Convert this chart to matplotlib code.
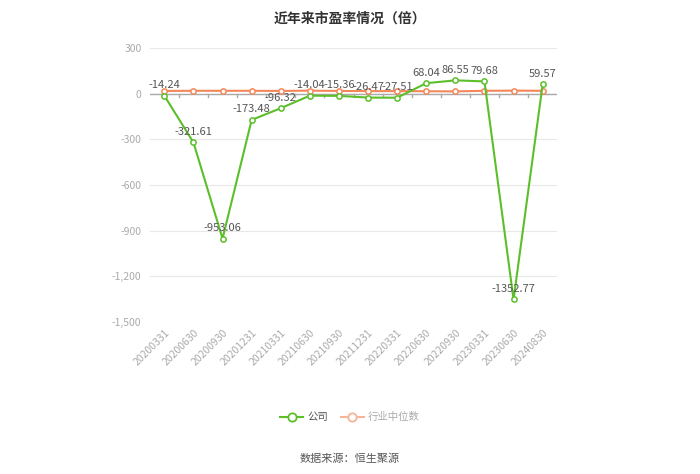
import matplotlib
matplotlib.use("Agg")
import matplotlib.pyplot as plt
from matplotlib.lines import Line2D

plt.rcParams['font.family'] = ['Noto Sans CJK SC', 'DejaVu Sans']

categories = ["20200331", "20200630", "20200930", "20201231", "20210331", "20210630",
              "20210930", "20211231", "20220331", "20220630", "20220930", "20230331",
              "20230630", "20240830"]
company = [-14.24, -321.61, -953.06, -173.48, -96.32, -14.04, -15.36, -26.47, -27.51,
           68.04, 86.55, 79.68, -1352.77, 59.57]
industry = [17, 18, 18, 18, 17, 19, 17, 16, 16, 15, 14, 18, 19, 18]
yticks = [300, 0, -300, -600, -900, -1200, -1500]

green = "#5cbf2a"
orange = "#f4875a"
grey = "#aaaaaa"

fig = plt.figure(figsize=(7, 4.74), dpi=100)
ax = fig.add_axes([0.214, 0.321, 0.582, 0.578])
x = list(range(len(categories)))

ax.plot(x, industry, color=orange, lw=1.5, marker='o', ms=3.8, mfc='white', mec=orange, mew=1.1, zorder=3)
ax.plot(x, company, color=green, lw=1.5, marker='o', ms=3.8, mfc='white', mec=green, mew=1.1, zorder=4)

for xi, v in zip(x, company):
    ax.annotate(f"{v:.2f}", (xi, v), xytext=(0, 4), textcoords='offset points',
                ha='center', va='bottom', fontsize=8, color='#555555', zorder=5)

ax.set_xlim(-0.5, len(categories) - 0.5)
ax.set_ylim(-1500, 300)
ax.set_yticks(yticks)
ax.set_yticklabels([f"{v:,}" for v in yticks], fontsize=7.5, color=grey)
ax.grid(axis='y', color='#e8e8e8', lw=0.8)
ax.set_axisbelow(True)
for s in ax.spines.values():
    s.set_visible(False)
ax.axhline(0, color='#aaaaaa', lw=1, zorder=2)
ax.tick_params(axis='y', length=0, pad=6)
ax.set_xticks(x)
ax.set_xticklabels(categories, rotation=45, ha='right', rotation_mode='anchor', fontsize=7.5, color=grey)
ax.tick_params(axis='x', length=0, pad=4)
for b in range(1, len(categories)):
    ax.plot([b - 0.5, b - 0.5], [0, -25], color='#aaaaaa', lw=1, zorder=2)

fig.text(0.5, 0.975, "近年来市盈率情况（倍）", ha='center', va='top', fontsize=10, fontweight='bold', color='#333333')

handles = [Line2D([0], [0], color=green, lw=1.5, marker='o', ms=6, mfc='white', mec=green, mew=1.3),
           Line2D([0], [0], color="#f7b597", lw=1.5, marker='o', ms=6, mfc='white', mec="#f7b597", mew=1.3)]
leg = fig.legend(handles, ["公司", "行业中位数"], loc='center', bbox_to_anchor=(0.5, 0.12), ncol=2,
                 frameon=False, fontsize=7.5, handlelength=2.2, columnspacing=1.2, handletextpad=0.4)
leg.get_texts()[0].set_color('#555555')
leg.get_texts()[1].set_color('#aaaaaa')

fig.text(0.5, 0.033, "数据来源：恒生聚源", ha='center', va='center', fontsize=8, color='#555555')

fig.savefig("out.png", dpi=100)
